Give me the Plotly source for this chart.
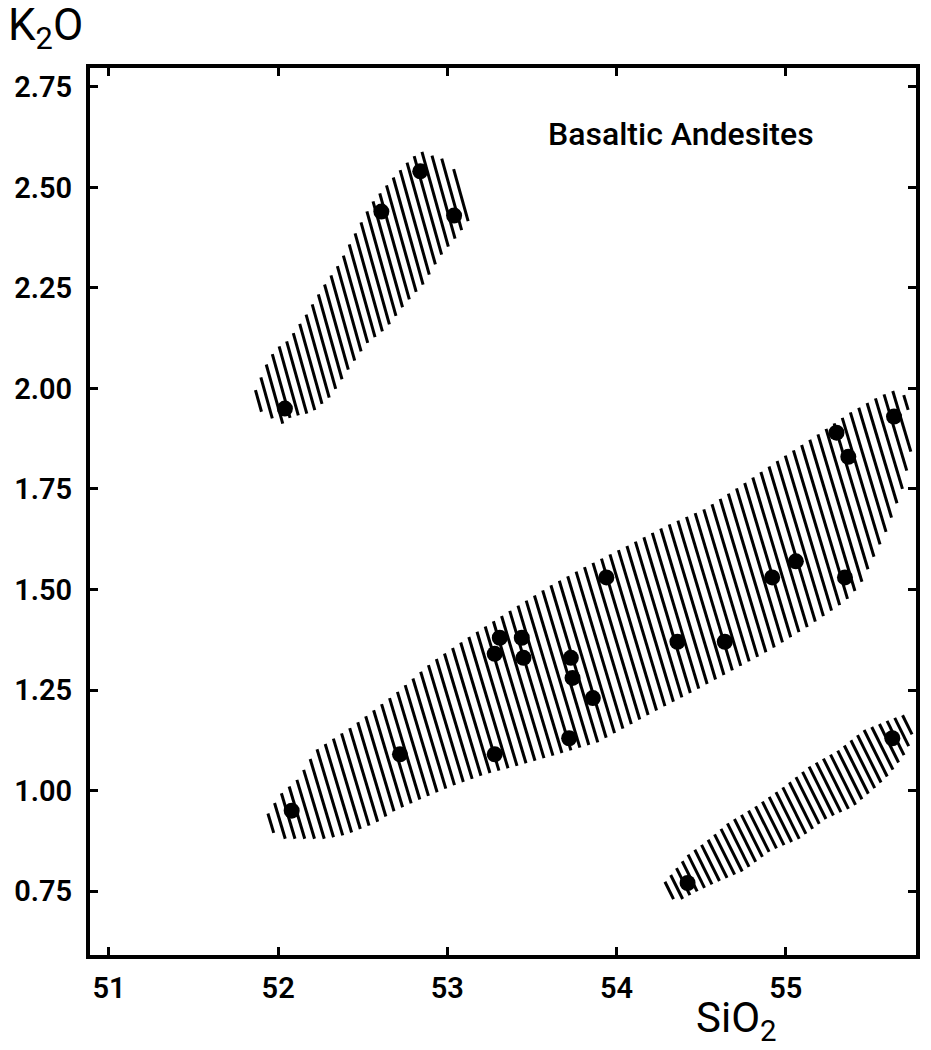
import numpy as np
import plotly.graph_objects as go

# Sample analyses: SiO2 vs K2O (wt %)
sio2 = [52.04, 52.61, 52.84, 53.04, 52.08, 52.72, 53.28, 53.28, 53.31, 53.44,
        53.45, 53.73, 53.74, 53.86, 53.72, 53.94, 54.36, 54.64, 54.92, 55.06,
        55.35, 55.30, 55.37, 55.64, 55.63, 54.42]
k2o = [1.95, 2.44, 2.54, 2.43, 0.95, 1.09, 1.09, 1.34, 1.38, 1.38,
       1.33, 1.33, 1.28, 1.23, 1.13, 1.53, 1.37, 1.37, 1.53, 1.57,
       1.53, 1.89, 1.83, 1.93, 1.13, 0.77]

# Field outlines (SiO2, K2O) for the three hatched groups
main_sio2 = [51.92, 52.01, 52.12, 52.22, 52.44, 52.69, 52.91, 53.12, 53.38, 53.61,
             53.83, 54.07, 54.30, 54.52, 54.74, 54.95, 55.17, 55.38, 55.55, 55.67,
             55.72, 55.74, 55.69, 55.59, 55.52, 55.44, 55.35, 55.14, 54.91, 54.69,
             54.47, 54.24, 54.02, 53.89, 53.65, 53.40, 53.22, 53.02, 52.85, 52.69,
             52.58, 52.40, 52.28, 52.14, 52.04, 51.95]
main_k2o = [0.93, 0.99, 1.03, 1.10, 1.16, 1.24, 1.32, 1.38, 1.45, 1.51,
            1.56, 1.61, 1.66, 1.70, 1.76, 1.82, 1.88, 1.94, 1.98, 2.00,
            1.97, 1.84, 1.75, 1.64, 1.58, 1.51, 1.47, 1.41, 1.35, 1.30,
            1.25, 1.20, 1.15, 1.12, 1.09, 1.06, 1.04, 1.01, 0.98, 0.95,
            0.92, 0.89, 0.88, 0.88, 0.88, 0.90]

high_sio2 = [51.85, 51.90, 51.94, 51.99, 52.06, 52.16, 52.26, 52.36, 52.46, 52.55,
             52.67, 52.78, 52.84, 52.90, 52.98, 53.05, 53.11, 53.13, 53.06, 52.96,
             52.86, 52.75, 52.64, 52.52, 52.42, 52.31, 52.20, 52.08, 52.02, 51.95,
             51.87]
high_k2o = [1.98, 2.03, 2.07, 2.10, 2.12, 2.18, 2.25, 2.31, 2.39, 2.46,
            2.52, 2.57, 2.59, 2.58, 2.57, 2.54, 2.49, 2.42, 2.38, 2.33,
            2.26, 2.21, 2.15, 2.11, 2.05, 1.98, 1.94, 1.93, 1.91, 1.93,
            1.95]

low_sio2 = [54.28, 54.32, 54.42, 54.52, 54.66, 54.82, 54.99, 55.14, 55.31, 55.46,
            55.64, 55.71, 55.76, 55.72, 55.65, 55.59, 55.51, 55.40, 55.24, 55.08,
            54.91, 54.75, 54.58, 54.48, 54.39, 54.31]
low_k2o = [0.77, 0.79, 0.84, 0.87, 0.92, 0.96, 1.01, 1.06, 1.10, 1.15,
           1.18, 1.19, 1.16, 1.10, 1.06, 1.03, 1.00, 0.96, 0.93, 0.88,
           0.85, 0.80, 0.77, 0.75, 0.73, 0.73]

x_ticks = [51, 52, 53, 54, 55]
y_ticks = [0.75, 1.00, 1.25, 1.50, 1.75, 2.00, 2.25, 2.50, 2.75]

X_RANGE = (50.888, 55.77)
Y_RANGE = (0.591, 2.797)
W, H = 931, 1050
M = dict(l=90, r=11, t=68, b=95)
PLOT_W = W - M["l"] - M["r"]
PLOT_H = H - M["t"] - M["b"]
SX = PLOT_W / (X_RANGE[1] - X_RANGE[0])
SY = PLOT_H / (Y_RANGE[1] - Y_RANGE[0])


def hatch(xs, ys, lean, gap):
    """Clip a family of parallel strokes to a polygon.

    Work in pixel-like units so stroke angle and spacing are isotropic:
    every stroke satisfies px - lean * py = c (py measured downward)."""
    px = (np.asarray(xs) - X_RANGE[0]) * SX
    py = (Y_RANGE[1] - np.asarray(ys)) * SY
    u = px - lean * py
    n = len(px)
    hx, hy = [], []
    for c in np.arange(u.min() + gap / 2, u.max(), gap):
        ts = []
        for i in range(n):
            j = (i + 1) % n
            a, b = u[i] - c, u[j] - c
            if (a > 0) != (b > 0):
                f = a / (a - b)
                ts.append(py[i] + f * (py[j] - py[i]))
        ts.sort()
        for t0, t1 in zip(ts[0::2], ts[1::2]):
            for t in (t0, t1):
                hx.append(X_RANGE[0] + (c + lean * t) / SX)
                hy.append(Y_RANGE[1] - t / SY)
            hx.append(None)
            hy.append(None)
    return hx, hy


fig = go.Figure()

for xs, ys, lean, gap in [
    (main_sio2, main_k2o, 0.30, 9.8),
    (high_sio2, high_k2o, 0.28, 9.0),
    (low_sio2, low_k2o, 0.50, 9.2),
]:
    hx, hy = hatch(xs, ys, lean, gap)
    fig.add_trace(go.Scatter(
        x=hx, y=hy, mode="lines",
        line=dict(color="black", width=3),
        hoverinfo="skip", showlegend=False,
    ))

fig.add_trace(go.Scatter(
    x=sio2, y=k2o, mode="markers",
    marker=dict(color="black", size=16, line=dict(width=0)),
    showlegend=False,
))

tick_font = dict(family="Roboto", size=29, color="black", weight=600)
axis_common = dict(
    showgrid=False, zeroline=False,
    showline=True, linecolor="black", linewidth=4, mirror="ticks",
    ticks="inside", ticklen=8, tickwidth=2.5, tickcolor="black",
    tickfont=tick_font,
)

fig.update_xaxes(range=list(X_RANGE), tickvals=x_ticks,
                 ticktext=[str(v) for v in x_ticks],
                 ticklabelstandoff=4, **axis_common)
fig.update_yaxes(range=list(Y_RANGE), tickvals=y_ticks,
                 ticktext=[f"{v:.2f}" for v in y_ticks],
                 ticklabelstandoff=8, **axis_common)

fig.add_annotation(
    text="K<sub>2</sub>O", xref="paper", yref="paper",
    x=-0.102, y=1.045, xanchor="left", yanchor="middle", showarrow=False,
    font=dict(family="Roboto", size=44, color="black"),
)
fig.add_annotation(
    text="SiO<sub>2</sub>", xref="paper", yref="paper",
    x=0.731, y=-0.074, xanchor="left", yanchor="middle", showarrow=False,
    font=dict(family="Roboto", size=42, color="black"),
)
fig.add_annotation(
    text="Basaltic Andesites", xref="paper", yref="paper",
    x=(548 - M["l"]) / PLOT_W, y=(H - M["b"] - 134) / PLOT_H,
    xanchor="left", yanchor="middle", showarrow=False,
    font=dict(family="Roboto", size=32, color="black", weight=500),
)

fig.update_layout(
    width=W, height=H, autosize=False, margin=M,
    paper_bgcolor="white", plot_bgcolor="white",
    showlegend=False,
)

fig.write_html("out.html")
